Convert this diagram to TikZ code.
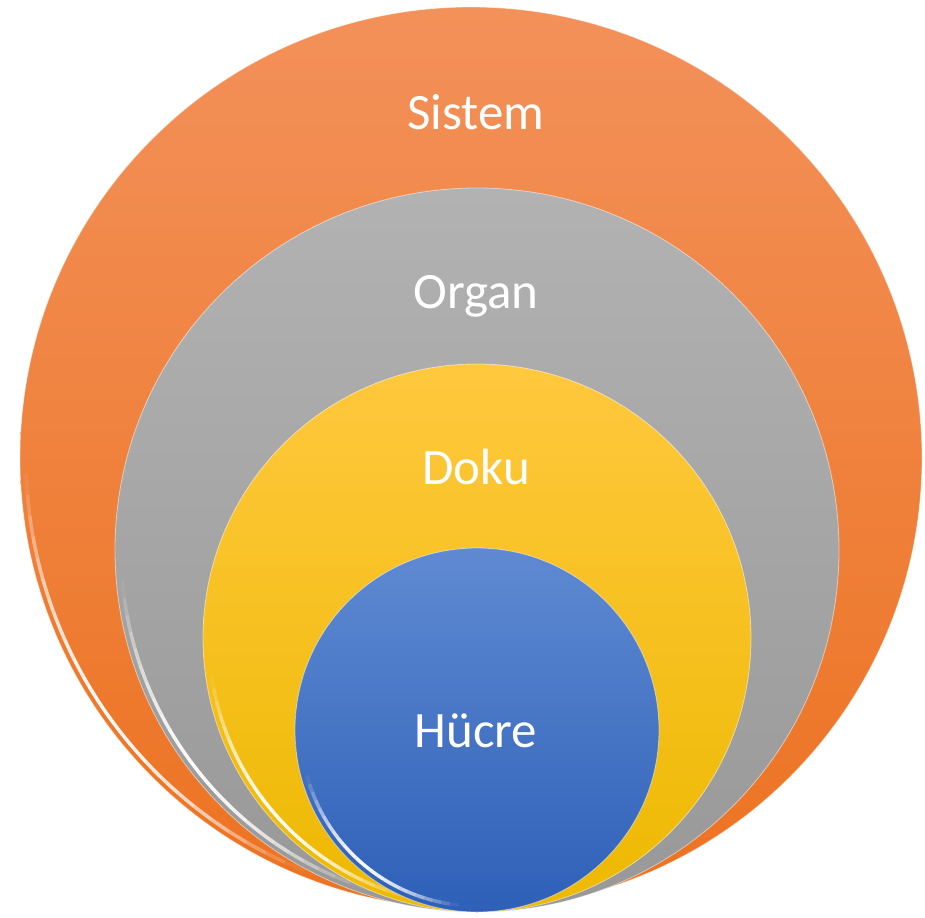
\documentclass[tikz,border=0pt]{standalone}
\usepackage{fontspec}
\setmainfont{Carlito}
\usetikzlibrary{positioning}

\definecolor{orangeTop}{HTML}{F3915A}
\definecolor{orangeBot}{HTML}{EC7220}
\definecolor{grayTop}{HTML}{B2B2B2}
\definecolor{grayBot}{HTML}{989898}
\definecolor{yellowTop}{HTML}{FFC83E}
\definecolor{yellowBot}{HTML}{EDB900}
\definecolor{blueTop}{HTML}{5F8AD2}
\definecolor{blueBot}{HTML}{2E60B8}

\begin{document}
\begin{tikzpicture}[
    x=1pt, y=-1pt,
    level/.style={circle, inner sep=0pt, draw=white, draw opacity=0.5, line width=0.8pt},
    shine/.style={white, line width=3.5pt},
    label/.style={anchor=base, text=white, font=\fontsize{51}{51}\selectfont}
    ]
    \useasboundingbox (0,0) rectangle (925,917);

    % Circles, outer to inner, each with a soft highlight on its lower left rim
    \foreach \name/\x/\y/\r/\ct/\cb/\s/\e in {
        sistem/471/458/451/orangeTop/orangeBot/112/178,
        organ/477/550/362/grayTop/grayBot/108/175,
        doku/477/638/274/yellowTop/yellowBot/104/172,
        hucre/477/730/182/blueTop/blueBot/96/165} {
      \node[level, top color=\ct, bottom color=\cb, minimum size=2*\r pt] (\name) at (\x,\y) {};
      \foreach \i in {0,...,23} {
        \pgfmathsetmacro\aa{\s+(\e-\s)*\i/24}
        \pgfmathsetmacro\bb{\s+(\e-\s)*(\i+1)/24}
        \pgfmathsetmacro\op{0.95*sin(180*(\i+0.5)/24)}
        \draw[shine, opacity=\op] ([shift={(\name.center)}]\aa:\r-6) arc[start angle=\aa, end angle=\bb, radius=\r-6];
      }
    }

    % Labels
    \node[label] (sistemText) at (476,130) {Sistem};
    \node[label] (organText) at (476,308) {Organ};
    \node[label] (dokuText) at (476,484) {Doku};
    \node[label] (hucreText) at (476,747) {Hücre};

\end{tikzpicture}
\end{document}
